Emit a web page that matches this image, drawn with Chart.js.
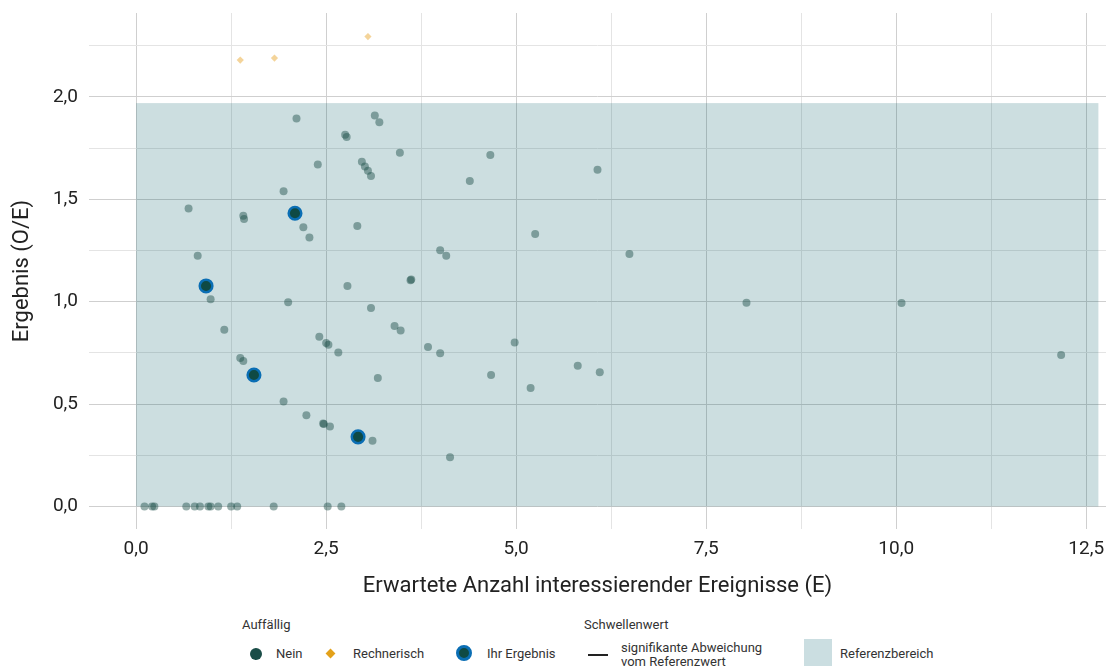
<!DOCTYPE html>
<html>
<head>
<meta charset="UTF-8">
<title>Ergebnis O/E</title>
<script src="https://cdn.jsdelivr.net/npm/chart.js"></script>
<style>
    body {
        margin: 0;
        width: 1106px;
        height: 666px;
        overflow: hidden;
        background: #fff;
        font-family: Roboto, sans-serif;
        color: #333;
        position: relative;
    }
    #chart { position: absolute; left: 0; top: 0; }
    .lg { position: absolute; font-size: 13px; line-height: 14px; white-space: nowrap; }
    .lg-title { top: 618px; }
    .lg-text { top: 647px; }
    .dot { position: absolute; border-radius: 50%; }
</style>
</head>
<body>
<canvas id="chart" width="1106" height="600"></canvas>

<div class="lg lg-title" style="left:242px">Auffällig</div>
<div class="dot" style="left:250px;top:648px;width:12px;height:12px;background:#1b4d48"></div>
<div class="lg lg-text" style="left:276px">Nein</div>
<div style="position:absolute;left:327px;top:650px;width:7px;height:7px;background:#e3a11a;transform:rotate(45deg)"></div>
<div class="lg lg-text" style="left:353px">Rechnerisch</div>
<div class="dot" style="left:456px;top:645px;width:10px;height:10px;background:#0f4a45;border:3px solid #0a6eb4"></div>
<div class="lg lg-text" style="left:487px">Ihr Ergebnis</div>

<div class="lg lg-title" style="left:584px">Schwellenwert</div>
<div style="position:absolute;left:588px;top:654px;width:20px;height:2px;background:#222"></div>
<div class="lg" style="left:621px;top:641px">signifikante Abweichung<br>vom Referenzwert</div>
<div style="position:absolute;left:804px;top:639px;width:28px;height:30px;background:#cbdee1"></div>
<div class="lg lg-text" style="left:840px">Referenzbereich</div>

<script>
// Erwartete Anzahl (E) und Ergebnis (O/E)
const neinE = [2.11, 3.14, 3.20, 2.75, 2.77, 3.47, 4.66, 2.39, 2.97, 3.01, 3.05, 3.09, 4.39, 1.94, 0.69,
    1.41, 1.42, 2.20, 2.28, 2.91, 5.25, 0.81, 4.00, 4.08, 6.07, 6.49,
    0.98, 2.00, 2.78, 3.61, 3.62, 3.09, 1.16, 3.40, 3.48, 2.41, 2.50, 2.53, 2.66, 3.84, 4.00, 4.98,
    1.37, 1.41, 3.18, 4.67, 5.19, 1.94, 2.24, 2.46, 2.47, 2.55, 3.11, 4.13, 8.03, 10.07, 12.17, 5.81, 6.10,
    0.11, 0.21, 0.24, 0.66, 0.77, 0.84, 0.95, 0.98, 1.08, 1.25, 1.33, 1.81, 2.52, 2.70];
const neinOE = [1.895, 1.91, 1.877, 1.815, 1.805, 1.728, 1.717, 1.67, 1.683, 1.66, 1.639, 1.614, 1.59, 1.54, 1.455,
    1.42, 1.404, 1.364, 1.313, 1.37, 1.331, 1.225, 1.251, 1.225, 1.645, 1.233,
    1.012, 0.997, 1.077, 1.105, 1.108, 0.969, 0.863, 0.881, 0.86, 0.829, 0.798, 0.79, 0.752, 0.779, 0.748, 0.801,
    0.725, 0.71, 0.627, 0.642, 0.578, 0.513, 0.446, 0.405, 0.403, 0.391, 0.321, 0.241, 0.995, 0.994, 0.74, 0.687, 0.655,
    0, 0, 0, 0, 0, 0, 0, 0, 0, 0, 0, 0, 0, 0];

const rechnerischE = [1.37, 1.82, 3.05];
const rechnerischOE = [2.18, 2.19, 2.295];

const ergebnisE = [0.92, 2.09, 1.55, 2.92];
const ergebnisOE = [1.077, 1.432, 0.642, 0.34];

// Referenzbereich
const refE = [0, 12.66];
const refOE = [0, 1.97];

const xTicks = [0, 1.25, 2.5, 3.75, 5, 6.25, 7.5, 8.75, 10, 11.25, 12.5];
const xTickLabels = ['0,0', '', '2,5', '', '5,0', '', '7,5', '', '10,0', '', '12,5'];
const yTicks = [0, 0.25, 0.5, 0.75, 1, 1.25, 1.5, 1.75, 2, 2.25];
const yTickLabels = ['0,0', '', '0,5', '', '1,0', '', '1,5', '', '2,0', ''];

const toPoints = (xs, ys) => xs.map((x, i) => ({ x: x, y: ys[i] }));

const refBox = {
    id: 'refBox',
    beforeDatasetsDraw(chart) {
        const { ctx, scales: { x, y } } = chart;
        const x0 = x.getPixelForValue(refE[0]);
        const x1 = x.getPixelForValue(refE[1]);
        const y0 = y.getPixelForValue(refOE[0]);
        const y1 = y.getPixelForValue(refOE[1]);
        ctx.save();
        ctx.fillStyle = 'rgba(0, 90, 100, 0.2)';
        ctx.fillRect(x0, y1, x1 - x0, y0 - y1);
        ctx.restore();
    }
};

const gridColor = c => (c.index % 2 === 0 ? '#cfcfcf' : '#e4e4e4');

new Chart(document.getElementById('chart').getContext('2d'), {
    type: 'scatter',
    data: {
        datasets: [
            {
                label: 'Ihr Ergebnis',
                data: toPoints(ergebnisE, ergebnisOE),
                pointRadius: 6.3,
                pointBackgroundColor: '#0f4a45',
                pointBorderColor: '#0a6eb4',
                pointBorderWidth: 2.5
            },
            {
                label: 'Rechnerisch',
                data: toPoints(rechnerischE, rechnerischOE),
                pointStyle: 'rectRot',
                pointRadius: 3.6,
                pointBackgroundColor: 'rgba(230, 160, 30, 0.45)',
                pointBorderWidth: 0
            },
            {
                label: 'Nein',
                data: toPoints(neinE, neinOE),
                pointRadius: 4,
                pointBackgroundColor: 'rgba(27, 77, 72, 0.45)',
                pointBorderWidth: 0
            }
        ]
    },
    options: {
        responsive: false,
        animation: false,
        layout: { autoPadding: false, padding: { top: 13, right: 0, bottom: 0, left: 0 } },
        plugins: {
            legend: { display: false },
            tooltip: { enabled: false }
        },
        scales: {
            x: {
                type: 'linear',
                min: -0.62,
                max: 12.76,
                afterBuildTicks: s => { s.ticks = xTicks.map(v => ({ value: v })); },
                afterFit: s => { s.height = 71; s.paddingLeft = 0; s.paddingRight = 0; },
                border: { display: false },
                grid: { color: gridColor, drawTicks: false, lineWidth: 1 },
                ticks: {
                    autoSkip: false,
                    maxRotation: 0,
                    padding: 0,
                    color: '#222',
                    font: { family: 'Roboto', size: 19, lineHeight: 2.1 },
                    callback: (v, i) => xTickLabels[i]
                },
                title: {
                    display: true,
                    text: 'Erwartete Anzahl interessierender Ereignisse (E)',
                    color: '#222',
                    font: { family: 'Roboto', size: 22 },
                    padding: { top: 0, bottom: 0 }
                }
            },
            y: {
                type: 'linear',
                min: -0.11,
                max: 2.41,
                afterBuildTicks: s => { s.ticks = yTicks.map(v => ({ value: v })); },
                afterFit: s => { s.width = 89; s.paddingTop = 0; s.paddingBottom = 0; },
                border: { display: false },
                grid: { color: gridColor, drawTicks: false, lineWidth: 1 },
                ticks: {
                    autoSkip: false,
                    padding: 11,
                    color: '#222',
                    font: { family: 'Roboto', size: 19 },
                    callback: (v, i) => yTickLabels[i]
                },
                title: {
                    display: true,
                    text: 'Ergebnis (O/E)',
                    color: '#222',
                    font: { family: 'Roboto', size: 22 },
                    padding: { top: 9, bottom: 0 }
                }
            }
        }
    },
    plugins: [refBox]
});
</script>
</body>
</html>
